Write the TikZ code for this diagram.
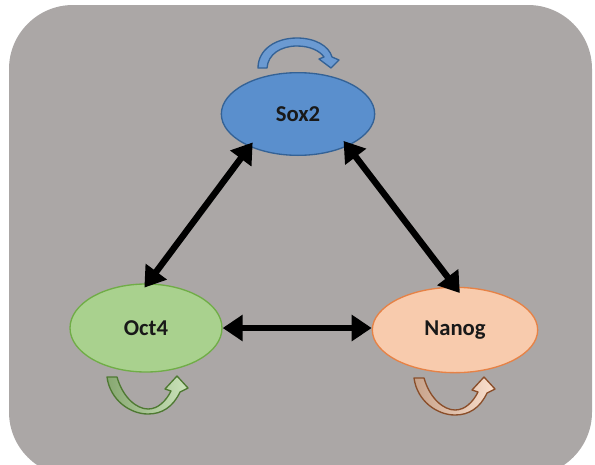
\documentclass[tikz,border=0pt]{standalone}
\usepackage{fontspec}
\setmainfont{Carlito}
\usetikzlibrary{arrows.meta,shapes.geometric}

\definecolor{panelgray}{RGB}{171,167,166}
\definecolor{soxfill}{RGB}{90,143,205}
\definecolor{soxline}{RGB}{52,98,150}
\definecolor{octfill}{RGB}{169,209,142}
\definecolor{octline}{RGB}{112,173,71}
\definecolor{nanogfill}{RGB}{248,203,173}
\definecolor{nanogline}{RGB}{230,130,70}

\tikzset{every picture/.style={line width=0.75pt}}
\tikzset{
  gene/.style={ellipse, inner sep=0pt, line width=1pt, text=black!90, font=\bfseries\fontsize{17}{20}\selectfont},
  biarrow/.style={{Triangle[width=19pt,length=15pt]}-{Triangle[width=19pt,length=15pt]}, line width=4.8pt, black},
  selfloop/.style={line width=1pt, line join=round}
}

\begin{document}
\begin{tikzpicture}[x=0.75pt,y=0.75pt,yscale=-1]
\useasboundingbox (0,0) rectangle (595,464);

%Shape: Rounded Rectangle [panel]
\fill[panelgray, rounded corners=48pt] (9,5) rectangle (592,476);

% Ellipse Nodes
\node[gene, fill=soxfill, draw=soxline, minimum width=115pt, minimum height=62pt] (sox) at (298,114) {Sox2};
\node[gene, fill=octfill, draw=octline, minimum width=114pt, minimum height=66pt] (oct) at (146,328) {Oct4};
\node[gene, fill=nanogfill, draw=nanogline, minimum width=124pt, minimum height=64pt] (nanog) at (455,330) {Nanog};

%Straight Lines [double arrows]
\draw[biarrow, shorten <=-4pt, shorten >=-4pt] (sox.214) -- (oct.88);
\draw[biarrow, shorten <=-5pt, shorten >=-6pt] (sox.327) -- (nanog.90);
\draw[biarrow] (oct.east) -- (oct.east -| nanog.west);

%Shape: Curved Arrow [Sox2]
\draw[selfloop, draw=soxline, fill=soxfill!90!white] (258,68) .. controls (258,50) and (275,38) .. (297,38) .. controls (315,38) and (329,46) .. (332,57) -- (339,60) -- (331,68) -- (319,59) -- (324,57) .. controls (320,51) and (310,46) .. (297,46) .. controls (281,46) and (268,54) .. (267,68) -- cycle;
%Shape: Curved Arrow [Oct4]
\draw[selfloop, draw=octline!70!black, left color=octfill!80!black, right color=octfill!60!white] (107,377) -- (117,377) .. controls (123,398) and (137,409) .. (148,409) .. controls (158,409) and (166,401) .. (171,391) -- (165,389) -- (177,376) -- (188,388) -- (180,392) .. controls (173,407) and (162,414) .. (148,414) .. controls (130,414) and (110,400) .. (107,377) -- cycle;
%Shape: Curved Arrow [Nanog]
\draw[selfloop, draw=nanogline!60!black, left color=nanogfill!80!black, right color=nanogfill!60!white] (414,378) -- (424,378) .. controls (430,399) and (444,410) .. (455,410) .. controls (465,410) and (473,402) .. (478,392) -- (472,390) -- (484,377) -- (495,389) -- (487,393) .. controls (480,408) and (469,415) .. (455,415) .. controls (437,415) and (417,401) .. (414,378) -- cycle;

\end{tikzpicture}
\end{document}
